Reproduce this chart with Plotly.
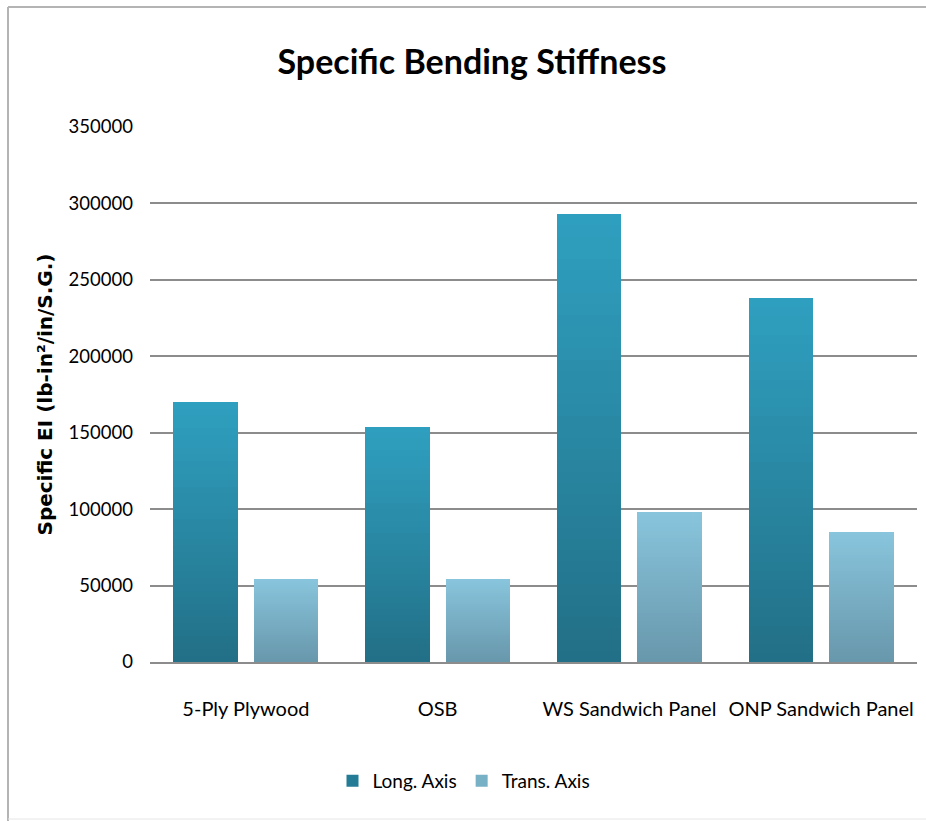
import plotly.graph_objects as go

# Chart data
categories = ["5-Ply Plywood", "OSB", "WS Sandwich Panel", "ONP Sandwich Panel"]
long_axis = [170000, 154000, 293000, 238000]
trans_axis = [54500, 54500, 98000, 85000]
y_ticks = [0, 50000, 100000, 150000, 200000, 250000, 300000, 350000]

FONT = "Lato, Roboto, sans-serif"

# Vertical gradient per bar: (top colour, bottom colour, legend swatch colour)
series = [
    ("Long. Axis", long_axis, "long", (47, 160, 192), (34, 111, 134), (36, 123, 150)),
    ("Trans. Axis", trans_axis, "trans", (136, 197, 221), (104, 151, 171), (120, 176, 198)),
]
N_SLICES = 40


def mix(top, bottom, t):
    r, g, b = (round(bottom[i] + (top[i] - bottom[i]) * t) for i in range(3))
    return f"rgb({r},{g},{b})"


fig = go.Figure()
for name, vals, group, top, bottom, legend_col in series:
    # each bar is built from stacked slices whose colour runs from dark (base) to light (top)
    for k in range(N_SLICES):
        fig.add_trace(go.Bar(
            x=categories,
            y=[v / N_SLICES for v in vals],
            offsetgroup=group,
            legendgroup=group,
            name=name,
            showlegend=False,
            marker=dict(color=mix(top, bottom, (k + 0.5) / N_SLICES), line=dict(width=0)),
            hoverinfo="skip",
        ))
    # legend swatch
    fig.add_trace(go.Bar(
        x=[categories[0]], y=[None], offsetgroup=group, legendgroup=group,
        name=name, showlegend=True, marker=dict(color=f"rgb{legend_col}", line=dict(width=0)),
    ))

L, R, T, B = 150, 9, 127, 159
W, H = 926, 821
pw, ph = W - L - R, H - T - B


def px_x(px):
    return (px - L) / pw


def px_y(py):
    return (H - B - py) / ph


fig.update_layout(
    template="none",
    width=W, height=H,
    margin=dict(l=L, r=R, t=T, b=B, pad=0, autoexpand=False),
    paper_bgcolor="white", plot_bgcolor="white",
    barmode="stack",
    bargap=0.16, bargroupgap=0.2,
    title=dict(
        text="<b>Specific Bending Stiffness</b>",
        x=472 / W, xanchor="center", y=1 - 62 / H, yanchor="middle", yref="container",
        font=dict(family=FONT, size=34, color="black"),
    ),
    xaxis=dict(
        type="category", automargin=False,
        showgrid=False, showline=True, linecolor="#8c8c8c", linewidth=2,
        ticks="", ticklabelstandoff=28, tickangle=0,
        tickfont=dict(family=FONT, size=20, color="black"),
    ),
    yaxis=dict(
        automargin=False,
        range=[0, 350000], tickvals=y_ticks, ticktext=[str(v) for v in y_ticks],
        showgrid=True, gridcolor="#8c8c8c", gridwidth=2,
        zeroline=False, showline=False, ticks="", ticklabelstandoff=16,
        tickfont=dict(family=FONT, size=18.5, color="black"),
        title=dict(
            text="<b>Specific EI (lb-in²/in/S.G.)</b>", standoff=10,
            font=dict(family="DejaVu Sans, sans-serif", size=20, color="black"),
        ),
    ),
    showlegend=True,
    legend=dict(
        orientation="h", x=px_x(464), xanchor="center", y=px_y(781), yanchor="middle",
        font=dict(family=FONT, size=19, color="black"),
        itemwidth=30, traceorder="normal", bgcolor="rgba(0,0,0,0)",
    ),
    shapes=[
        dict(type="line", xref="paper", yref="paper", x0=px_x(8), x1=px_x(926), y0=px_y(7), y1=px_y(7),
             line=dict(color="#b4b4b4", width=2)),
        dict(type="line", xref="paper", yref="paper", x0=px_x(8), x1=px_x(8), y0=px_y(7), y1=px_y(821),
             line=dict(color="#b4b4b4", width=2)),
        dict(type="line", xref="paper", yref="paper", x0=px_x(8), x1=px_x(926), y0=px_y(819), y1=px_y(819),
             line=dict(color="#e6e6e6", width=1)),
    ],
)

fig.write_html("out.html")
